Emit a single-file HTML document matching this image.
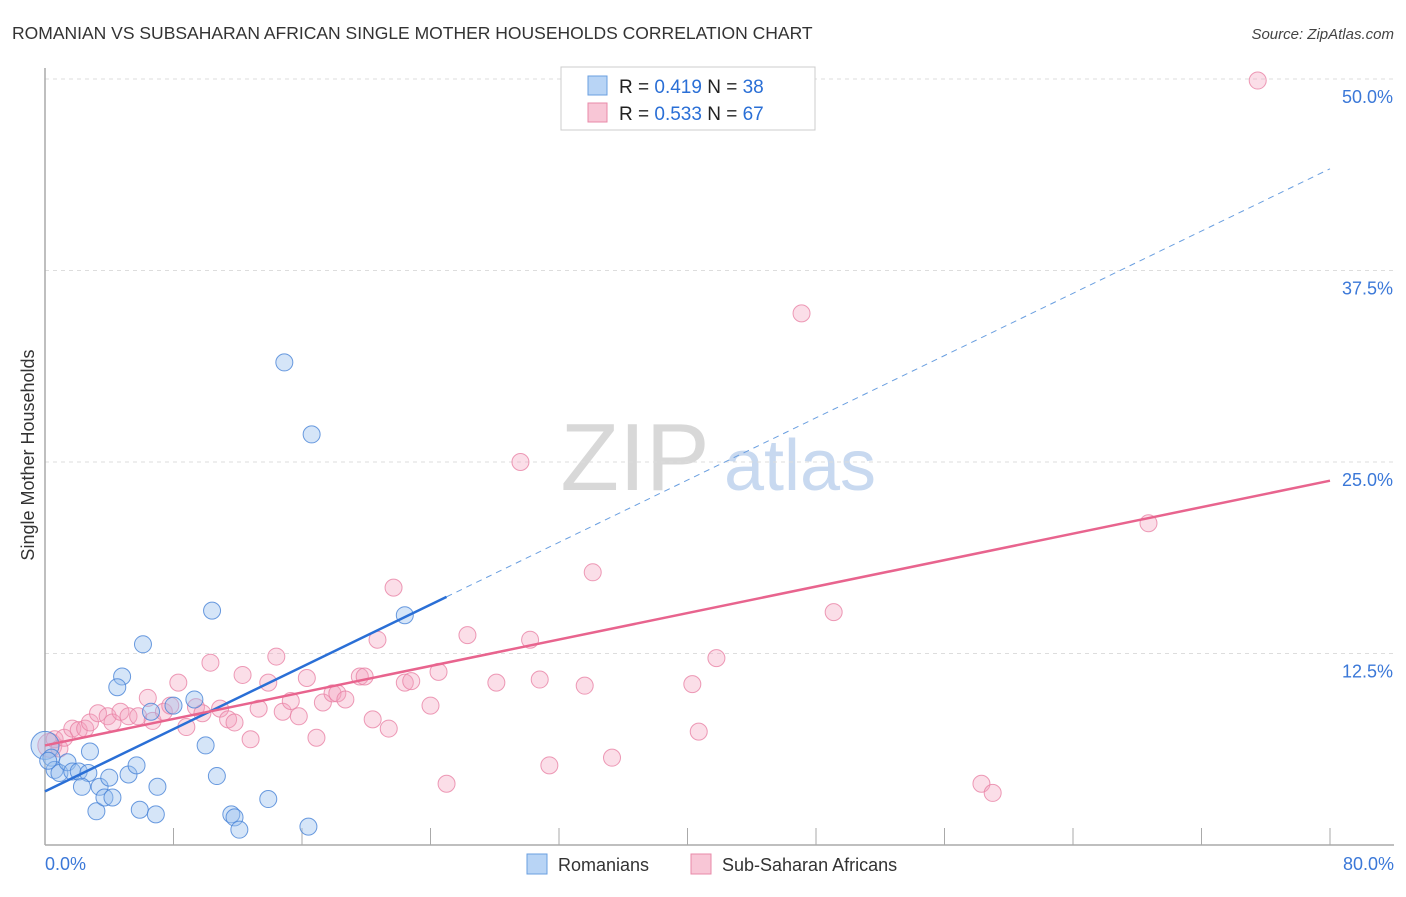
<!DOCTYPE html>
<html><head><meta charset="utf-8"><style>
body{margin:0;background:#fff;font-family:"Liberation Sans",sans-serif;}
svg text{font-family:"Liberation Sans",sans-serif;}
</style></head><body>
<svg id="chart" width="1406" height="892" xmlns="http://www.w3.org/2000/svg">
<text x="12" y="39" font-size="17.5" fill="#333">ROMANIAN VS SUBSAHARAN AFRICAN SINGLE MOTHER HOUSEHOLDS CORRELATION CHART</text>
<text x="1394" y="39" font-size="15" fill="#444" text-anchor="end" font-style="italic">Source: ZipAtlas.com</text>
<g>
<text x="635" y="490" font-size="96" fill="#d8d8d8" font-family="Liberation Serif, serif" text-anchor="middle">ZIP</text>
<text x="800" y="490" font-size="72" fill="#c8d9f0" text-anchor="middle">atlas</text>
</g>
<g id="grid"></g>
<g id="axes"></g>
<g id="marks"></g>
<text transform="translate(34,455) rotate(-90)" font-size="18" fill="#333" text-anchor="middle">Single Mother Households</text>
<g>
<rect x="561" y="67" width="254" height="63" fill="#fff" stroke="#ccc"/>
<rect x="588" y="76" width="19" height="19" fill="#b8d4f5" stroke="#6a9fe0"/>
<rect x="588" y="103" width="19" height="19" fill="#f8c6d6" stroke="#e88aa8"/>
<text x="619" y="93" font-size="19" fill="#222">R = <tspan fill="#2a6fd6">0.419</tspan>   N = <tspan fill="#2a6fd6">38</tspan></text>
<text x="619" y="120" font-size="19" fill="#222">R = <tspan fill="#2a6fd6">0.533</tspan>   N = <tspan fill="#2a6fd6">67</tspan></text>
</g>
<g>
<rect x="527" y="854" width="20" height="20" fill="#b8d4f5" stroke="#6a9fe0"/>
<text x="558" y="871" font-size="18" fill="#333">Romanians</text>
<rect x="691" y="854" width="20" height="20" fill="#f8c6d6" stroke="#e88aa8"/>
<text x="722" y="871" font-size="18" fill="#333">Sub-Saharan Africans</text>
</g>
</svg>
<script>
const blueX=[0.0,0.4,0.6,0.9,1.4,1.7,2.1,2.7,2.8,2.3,3.2,3.4,3.7,4.0,4.2,4.8,4.5,5.2,5.7,5.9,6.1,6.6,7.0,6.9,8.0,9.3,10.0,10.4,10.7,11.6,11.8,12.1,13.9,14.9,16.4,16.6,22.4,0.2];
const blueY=[6.5,5.7,4.9,4.7,5.4,4.8,4.8,4.7,6.1,3.8,2.2,3.8,3.1,4.4,3.1,11.0,10.3,4.6,5.2,2.3,13.1,8.7,3.8,2.0,9.1,9.5,6.5,15.3,4.5,2.0,1.8,1.0,3.0,31.5,1.2,26.8,15.0,5.5];
const pinkX=[0.3,0.6,0.9,1.2,1.7,2.1,2.5,2.8,3.3,3.9,4.2,4.7,5.2,5.8,6.4,6.7,7.4,7.8,8.3,8.8,9.4,9.8,10.3,10.9,11.4,11.8,12.3,12.8,13.3,13.9,14.4,14.8,15.3,15.8,16.3,16.9,17.3,17.9,18.2,18.7,19.6,19.9,20.4,20.7,21.4,21.7,22.4,22.8,24.0,24.5,25.0,26.3,28.1,29.6,30.2,30.8,31.4,33.6,34.1,35.3,40.3,40.7,41.8,47.1,49.1,58.3,59.0,68.7,75.5];
const pinkY=[6.5,6.9,6.3,7.0,7.6,7.5,7.6,8.0,8.6,8.4,8.0,8.7,8.4,8.4,9.6,8.1,8.7,9.1,10.6,7.7,9.0,8.6,11.9,8.9,8.2,8.0,11.1,6.9,8.9,10.6,12.3,8.7,9.4,8.4,10.9,7.0,9.3,9.9,9.9,9.5,11.0,11.0,8.2,13.4,7.6,16.8,10.6,10.7,9.1,11.3,4.0,13.7,10.6,25.0,13.4,10.8,5.2,10.4,17.8,5.7,10.5,7.4,12.2,34.7,15.2,4.0,3.4,21.0,49.9];
const yTicks=[12.5,25.0,37.5,50.0];
const xTickVals=[8,16,24,32,40,48,56,64,72,80];
const blueTrend=[3.5,0.508];
const pinkTrend=[6.5,0.216];
const NS='http://www.w3.org/2000/svg';
const sx=v=>45+v*1285/80;
const sy=v=>845-v*15.32;
function mk(tag,attrs,parent){const e=document.createElementNS(NS,tag);for(const k in attrs)e.setAttribute(k,attrs[k]);document.getElementById(parent).appendChild(e);return e;}
yTicks.forEach(t=>{
 const l=mk('line',{x1:45,x2:1394,y1:sy(t),y2:sy(t),stroke:'#ddd','stroke-dasharray':'4,4'},'grid');
 
 
 const tx=mk('text',{x:1393,y:sy(t)+24,'font-size':18,fill:'#3b78d8','text-anchor':'end'},'grid');
 tx.textContent=t.toFixed(1)+'%';
 
 
});
const ax=mk('line',{x1:45,x2:45,y1:68,y2:845,stroke:'#aaa','stroke-width':1.5},'axes');


const bx=mk('line',{x1:45,x2:1394,y1:845,y2:845,stroke:'#aaa','stroke-width':1.5},'axes');


xTickVals.forEach(t=>{
 const l=mk('line',{x1:sx(t),x2:sx(t),y1:828,y2:845,stroke:'#aaa'},'axes');
 
 
});
const x0=mk('text',{x:45,y:870,'font-size':18,fill:'#3b78d8'},'axes');x0.textContent='0.0%';


const x1=mk('text',{x:1394,y:870,'font-size':18,fill:'#3b78d8','text-anchor':'end'},'axes');x1.textContent='80.0%';


// points
pinkX.forEach((x,i)=>{
 const c=mk('circle',{cx:sx(x),cy:sy(pinkY[i]),r:i==0?12:8.5,fill:'rgba(244,160,188,0.35)',stroke:'rgba(232,130,165,0.8)'},'marks');
 
 
});
blueX.forEach((x,i)=>{
 const c=mk('circle',{cx:sx(x),cy:sy(blueY[i]),r:i==0?14:8.5,fill:'rgba(150,190,238,0.4)',stroke:'rgba(70,130,215,0.8)'},'marks');
 
 
});
const bt=mk('line',{x1:sx(0),y1:sy(blueTrend[0]),x2:sx(25),y2:sy(blueTrend[0]+25*blueTrend[1]),stroke:'#2a6fd6','stroke-width':2.5},'marks');


const bd=mk('line',{x1:sx(25),y1:sy(blueTrend[0]+25*blueTrend[1]),x2:sx(80),y2:sy(blueTrend[0]+80*blueTrend[1]),stroke:'#6a9fe0','stroke-width':1,'stroke-dasharray':'6,5'},'marks');


const pt=mk('line',{x1:sx(0),y1:sy(pinkTrend[0]),x2:sx(80),y2:sy(pinkTrend[0]+80*pinkTrend[1]),stroke:'#e8648e','stroke-width':2.5},'marks');


</script>
</body></html>
